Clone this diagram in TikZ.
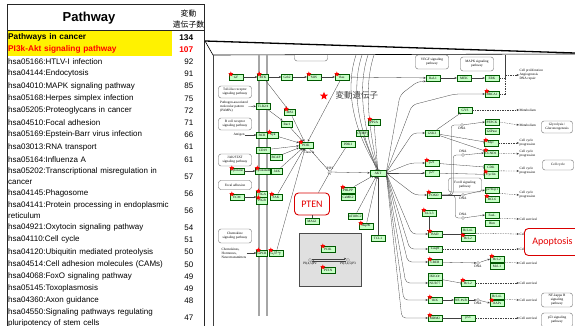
\documentclass[tikz,border=0pt]{standalone}
\usepackage{fontspec}
\setmainfont{Liberation Sans}
\newfontfamily\keggfont{Liberation Serif}
\newfontfamily\jpfont{Noto Sans CJK JP}
\newfontfamily\callfont{Carlito}
\usetikzlibrary{arrows.meta,shapes.geometric,calc}
\newcommand\kt{\keggfont\fontsize{3.4}{3.9}\selectfont}

\begin{document}
\begin{tikzpicture}[x=1pt,y=-1pt]
  %
  \tikzstyle{prow} = [anchor=center, minimum height=12.2pt, inner sep=0pt, inner xsep=1pt, text width=163pt, align=left, font=\fontsize{8}{11}\selectfont]
  \tikzstyle{prow2} = [prow, minimum height=22pt]
  \tikzstyle{phot} = [prow, fill=yellow, font=\fontsize{8.3}{11}\selectfont\bfseries]
  \tikzstyle{pcnt} = [anchor=center, minimum height=12.2pt, inner sep=0pt, text width=21pt, align=right, font=\fontsize{8}{11}\selectfont]
  \tikzstyle{photcnt} = [pcnt, font=\fontsize{8.3}{11}\selectfont\bfseries]
  \tikzstyle{gene} = [draw=green!35!black, fill=green!22, line width=0.3pt, minimum width=14pt, minimum height=6.4pt, inner sep=0.2pt, font=\kt]
  \tikzstyle{pmap} = [draw=black!60, line width=0.4pt, rounded corners=2.5pt, fill=white, minimum width=33pt, minimum height=12pt, inner sep=0.5pt, align=center, font=\kt]
  \tikzstyle{ktext} = [inner sep=0.3pt, align=left, font=\kt]
  \tikzstyle{cpd} = [circle, draw=black!80, fill=white, line width=0.3pt, minimum size=3pt, inner sep=0pt, label distance=0pt]
  \tikzstyle{hit} = [star, star points=5, star point ratio=2.3, fill=red, inner sep=0pt, minimum size=5.5pt]
  \tikzstyle{lnk} = [draw=black!75, line width=0.3pt]
  \tikzstyle{act} = [lnk, -{Stealth[length=2.4pt,width=2pt]}]
  \tikzstyle{inh} = [lnk, -{Bar[width=3.5pt]}]
  \tikzstyle{ind} = [lnk, dash pattern=on 1.5pt off 1pt, -{Stealth[length=2.4pt,width=2pt]}]
  \tikzstyle{callout} = [draw=red!85!black, line width=0.9pt, rounded corners=4pt, fill=white, text=red!90!black, font=\callfont\fontsize{10}{10}\selectfont]

  \clip (0,0) rectangle (575,326);

  % table of enriched pathways
  \node[font=\fontsize{13}{13}\selectfont\bfseries] (hdr) at (89,18) {Pathway};
  \node[font=\jpfont\fontsize{7.8}{11}\selectfont, align=center, inner sep=0pt] (hdrcnt) at (188.5,19.5) {変動\\遺伝子数};
  \matrix[row sep=0pt, column sep=0pt, inner sep=0pt, anchor=north west] (tbl) at (7,31)
  {
    \node[phot]{Pathways in cancer}; & \node[photcnt]{134}; \\
    \node[phot, text=red]{PI3k-Akt signaling pathway}; & \node[photcnt, text=red]{107}; \\
    \node[prow]{hsa05166:HTLV-I infection}; & \node[pcnt]{92}; \\
    \node[prow]{hsa04144:Endocytosis}; & \node[pcnt]{91}; \\
    \node[prow]{hsa04010:MAPK signaling pathway}; & \node[pcnt]{85}; \\
    \node[prow]{hsa05168:Herpes simplex infection}; & \node[pcnt]{75}; \\
    \node[prow]{hsa05205:Proteoglycans in cancer}; & \node[pcnt]{72}; \\
    \node[prow]{hsa04510:Focal adhesion}; & \node[pcnt]{71}; \\
    \node[prow]{hsa05169:Epstein-Barr virus infection}; & \node[pcnt]{66}; \\
    \node[prow]{hsa03013:RNA transport}; & \node[pcnt]{61}; \\
    \node[prow]{hsa05164:Influenza A}; & \node[pcnt]{61}; \\
    \node[prow2]{hsa05202:Transcriptional misregulation in\\cancer}; & \node[pcnt]{57}; \\
    \node[prow]{hsa04145:Phagosome}; & \node[pcnt]{56}; \\
    \node[prow2]{hsa04141:Protein processing in endoplasmic\\reticulum}; & \node[pcnt]{56}; \\
    \node[prow]{hsa04921:Oxytocin signaling pathway}; & \node[pcnt]{54}; \\
    \node[prow]{hsa04110:Cell cycle}; & \node[pcnt]{51}; \\
    \node[prow]{hsa04120:Ubiquitin mediated proteolysis}; & \node[pcnt]{50}; \\
    \node[prow]{hsa04514:Cell adhesion molecules (CAMs)}; & \node[pcnt]{50}; \\
    \node[prow]{hsa04068:FoxO signaling pathway}; & \node[pcnt]{49}; \\
    \node[prow]{hsa05145:Toxoplasmosis}; & \node[pcnt]{49}; \\
    \node[prow]{hsa04360:Axon guidance}; & \node[pcnt]{48}; \\
    \node[prow2]{hsa04550:Signaling pathways regulating\\pluripotency of stem cells}; & \node[pcnt]{47}; \\
  };
  \draw[black!85, line width=0.6pt] (7,326) -- (7,4) -- (204,4) -- (204,326);
  \draw[black!85, line width=0.6pt] (7,30) -- (204,30);

  % zoom wedge and map frame
  \draw[line width=1.3pt] (205,41) -- (575,53);
  \draw[line width=0.6pt] (205,41) -- (213,55) -- (575,54);
  \draw[black!75, line width=0.7pt] (213,55) -- (213,326);

  \begin{scope}
  \clip (213.5,55.5) rectangle (575,326);
  % membrane
  \draw[black!35, line width=1.1pt] (259,55) -- (259,316);
  \draw[black!35, line width=1.1pt] (267,55) -- (267,316);

  % pathway boxes
  \node[pmap, minimum height=22pt] (topp) at (311,50) {};
  \node[pmap] (tollp) at (235,92) {Toll-like receptor\\signaling pathway};
  \node[pmap] (bcrp) at (235,124) {B cell receptor\\signaling pathway};
  \node[pmap] (jakp) at (235,160) {JAK/STAT\\signaling pathway};
  \node[pmap, minimum height=9pt] (focp) at (235,185) {Focal adhesion};
  \node[pmap, minimum height=14pt] (chmp) at (235,236) {Chemokine\\signaling pathway};
  \node[pmap, minimum height=14pt] (vegfp) at (432,62) {VEGF signaling\\pathway};
  \node[pmap, minimum height=14pt] (mapkp) at (477,64) {MAPK signaling\\pathway};
  \node[pmap, minimum width=31pt] (glyp) at (557,127) {Glycolysis /\\Gluconeogenesis};
  \node[pmap, minimum width=31pt, minimum height=10pt] (ccp) at (558,165) {Cell cycle};
  \node[pmap, minimum height=14pt] (foxp) at (465,185) {FoxO signaling\\pathway};
  \node[pmap, minimum width=31pt, minimum height=14pt] (nfkp) at (557,300) {NF-kappa B\\signaling\\pathway};
  \node[pmap, minimum width=31pt, minimum height=14pt] (p53p) at (557,320) {p53 signaling\\pathway};

  % genes
  \node[gene] (gf) at (236,77) {GF};
  \node[gene, minimum width=11pt] (rtk) at (263,77) {RTK};
  \node[gene, minimum width=11pt] (grb) at (287,77) {Grb2};
  \node[gene] (sos) at (314,77) {SOS};
  \node[gene] (ras) at (342,77) {Ras};
  \node[gene] (raf) at (433,78) {Raf-1};
  \node[gene] (mek) at (464,78) {MEK};
  \node[gene] (erk) at (492,78) {ERK};
  \node[gene] (brca) at (492,94) {BRCA1};
  \node[gene] (gys) at (465,110) {GYS};
  \node[gene] (tlr) at (263,106) {TLR2/4};
  \node[gene, minimum width=11pt] (irs) at (290,112) {IRS1};
  \node[gene, minimum width=11pt] (rac) at (287,124) {Rac1};
  \node[gene, minimum width=11pt] (bcr) at (262,135) {BCR};
  \node[gene, minimum width=11pt] (syk) at (273,135) {Syk};
  \node[gene] (cd) at (263,150) {CD19};
  \node[gene, minimum width=12pt] (bcap) at (276,157) {BCAP};
  \node[gene] (pik) at (306,145) {PI3K};
  \node[gene] (ctk) at (237,171) {Cytokine};
  \node[gene, minimum width=13pt] (ctkr) at (263,171) {CytokineR};
  \node[gene, minimum width=11pt] (jak) at (277,171) {JAK};
  \node[gene] (ecm) at (237,197) {ECM};
  \node[gene, minimum width=11pt] (itga) at (262,194) {ITGA};
  \node[gene, minimum width=11pt] (itgb) at (262,200.5) {ITGB};
  \node[gene, minimum width=12pt] (fak) at (276,197) {FAK};
  \node[gene] (pdk) at (348,144) {PDK1};
  \node[gene, minimum width=12pt] (ctmp) at (362,133) {CTMP};
  \node[gene, minimum width=12pt] (pp2a) at (374,122) {PP2A};
  \node[gene, minimum width=16pt] (akt) at (378,173) {AKT};
  \node[gene] (phlpp) at (348,190) {PHLPP};
  \node[gene] (camk) at (348,197) {CaMK2};
  \node[gene] (magi) at (312,221) {MAGI};
  \node[gene] (mtor) at (355,216) {mTORC2};
  \node[gene] (hsp) at (366,226) {Hsp90};
  \node[gene] (tcl) at (378,238) {TCL1};
  \node[gene, minimum width=11pt] (gpcr) at (262,253) {GPCR};
  \node[gene] (gbg) at (276,253) {G$\beta\gamma$};
  \node[gene] (gsk) at (432,133) {GSK3};
  \node[gene] (pepck) at (492,122) {PEPCK};
  \node[gene] (gsix) at (492,131) {G6Pase};
  \node[gene] (myc) at (491,143) {Myc};
  \node[gene] (ccnd) at (491,153) {CCND1};
  \node[gene] (pone) at (432,163) {p21};
  \node[gene] (ptwo) at (432,173) {p27};
  \node[gene] (cdk) at (491,167.5) {CDK};
  \node[gene] (cyc) at (491,174.5) {Cyclin};
  \node[gene] (foxo) at (434,195) {FOXO};
  \node[gene] (kip) at (492,190) {p27Kip1};
  \node[gene] (bcls) at (492,199) {BCL6};
  \node[gene] (ywha) at (429,213) {14-3-3};
  \node[gene] (fasl) at (492,215) {FasL};
  \node[gene] (bim) at (492,223) {Bim};
  \node[gene] (bad) at (435,234) {BAD};
  \node[gene] (bclx) at (468,230) {Bcl-xL};
  \node[gene] (bcl) at (468,238) {Bcl-2};
  \node[gene] (casp) at (435,249) {Casp9};
  \node[gene] (creb) at (435,262) {CREB};
  \node[gene] (bclc) at (497,259) {Bcl-2};
  \node[gene] (mcl) at (497,266) {Mcl-1};
  \node[gene] (ikka) at (435,276.5) {IKK$\alpha$};
  \node[gene] (nur) at (435,283) {NUR77};
  \node[gene] (bcld) at (468,283) {Bcl-2};
  \node[gene] (ikk) at (435,300) {IKK};
  \node[gene] (nfkb) at (461,300) {NF-$\kappa$B};
  \node[gene] (bclxb) at (497,296) {Bcl-xL};
  \node[gene] (ciap) at (497,303) {cIAPs};
  \node[gene] (mdm) at (435,318) {MDM2};
  \node[gene] (pfif) at (468,318) {p53};

  % compounds and free text
  \node[cpd, label={[ktext]above:PIP3}] (pip) at (330,172) {};
  \node[cpd, label={[ktext]below:DNA}] (dnaa) at (462,125) {};
  \node[cpd, label={[ktext]above:DNA}] (dnab) at (463,155) {};
  \node[cpd, label={[ktext]below:DNA}] (dnac) at (463,195) {};
  \node[cpd, label={[ktext]above:DNA}] (dnad) at (463,218) {};
  \node[cpd, label={[ktext]below:DNA}] (dnae) at (478,263) {};
  \node[cpd, label={[ktext]below:DNA}] (dnaf) at (478,300) {};
  \node[ktext] (pamps) at (234,107) {Pathogen-associated\\molecular pattern\\(PAMPs)};
  \node[ktext] (antigen) at (239,135) {Antigen};
  \node[ktext] (classia) at (309,152) {Class Ia};
  \node[ktext] (chemo) at (234,253) {Chemokines,\\Hormones,\\Neurotransmitters};
  \node[ktext, anchor=west] (prolif) at (519,75) {Cell proliferation\\Angiogenesis\\DNA repair};
  \node[ktext, anchor=west] (metaa) at (519,110) {Metabolism};
  \node[ktext, anchor=west] (metab) at (519,125) {Metabolism};
  \node[ktext, anchor=west] (ccpa) at (519,143) {Cell cycle\\progression};
  \node[ktext, anchor=west] (ccpb) at (519,154) {Cell cycle\\progression};
  \node[ktext, anchor=west] (ccpc) at (519,171) {Cell cycle\\progression};
  \node[ktext, anchor=west] (ccpd) at (519,195) {Cell cycle\\progression};
  \node[ktext, anchor=west] (surva) at (519,219) {Cell survival};
  \node[ktext, anchor=west] (survb) at (519,234) {Cell survival};
  \node[ktext, anchor=west] (survc) at (519,249) {Cell survival};
  \node[ktext, anchor=west] (survd) at (519,263) {Cell survival};
  \node[ktext, anchor=west] (surve) at (519,283) {Cell survival};
  \node[ktext, anchor=west] (survf) at (519,300) {Cell survival};
  \node[ktext, anchor=west] (survg) at (519,318) {Cell survival};

  % PI3K reaction box
  \node[draw=black!70, fill=black!12, line width=0.8pt, minimum width=62pt, minimum height=53pt] (pibox) at (330,259.5) {};
  \node[gene] (pikb) at (328,249) {PI3K};
  \node[gene] (ptenb) at (328,270) {PTEN};
  \node[cpd, label={[ktext]below:PI(4,5)P2}] (pa) at (310,260) {};
  \node[cpd, label={[ktext]below:PI(3,4,5)P3}] (pb) at (348,260) {};
  \draw[act] ([yshift=1.3pt]pa.east) -- ([yshift=1.3pt]pb.west);
  \draw[act] ([yshift=-1.3pt]pb.west) -- ([yshift=-1.3pt]pa.east);

  % relations
  \draw[act] (gf) -- (rtk);
  \draw[act] (rtk) -- (grb);
  \draw[act] (grb) -- (sos);
  \draw[act] (sos) -- (ras);
  \draw[act] (ras) -- (raf);
  \draw[act] (raf) -- (mek);
  \draw[act] (mek) -- (erk);
  \draw[act] (rtk) -- (irs);
  \draw[act] (irs) -- (pik);
  \draw[act] (ras) -- (pik);
  \draw[act] (pamps) -- (tlr);
  \draw[act] (tlr) -- (rac);
  \draw[act] (rac) -- (pik);
  \draw[act] (antigen) -- (bcr);
  \draw[act] (syk) -- (pik);
  \draw[act] (cd) -- (pik);
  \draw[act] (bcap) -- (pik);
  \draw[act] (ctk) -- (ctkr);
  \draw[act] (jak) -- (pik);
  \draw[act] (ecm) -- (itga.west |- ecm);
  \draw[act] (fak) -- (pik);
  \draw[act] (chemo) -- (gpcr);
  \draw[act] (gbg) -- (pik);
  \draw[lnk] (pik) -- (pip);
  \draw[lnk] (pdk) -- (pip);
  \draw[act] (pip) -- (akt);
  \draw[inh] (ctmp) -- (akt);
  \draw[inh] (pp2a) -- (akt);
  \draw[inh] (phlpp) -- (akt);
  \draw[act] (mtor) -- (akt);
  \draw[act] (hsp) -- (akt);
  \draw[act] (tcl) -- (akt);

  % fan of AKT targets
  \foreach \t/\b in {gsk/12, pone/14, ptwo/10, foxo/12, bad/16, casp/18, creb/20, nur/22, ikk/24, mdm/26}
    \draw[act, rounded corners=4pt] (akt.east) -- ([xshift=-\b pt]\t.west) -- (\t.west);
  \draw[act, rounded corners=5pt] (akt.east) -- (400,95) -- ([xshift=-8pt]raf.south west) -- (raf.south west);
  \draw[act, rounded corners=5pt] (akt.east) -- (412,105) -- ([xshift=-30pt]brca.west) -- (brca.west);
  \foreach \i/\xa in {1/350, 2/356, 3/362, 4/368}
  {
    \coordinate (up\i) at (\xa+6,55);
    \draw[lnk] (akt.north) .. controls (\xa,125) and (\xa-4,85) .. (up\i);
  }

  \draw[inh] (gsk) -- (gys);
  \draw[inh] (gsk) -- (myc);
  \draw[inh] (gsk) -- (ccnd);
  \draw[inh] (pone) -- (cdk);
  \draw[inh] (ptwo) -- (cyc);
  \draw[lnk, rounded corners=3pt] (foxo.east) -- ++(10,0) |- (dnaa);
  \draw[lnk, rounded corners=3pt] (foxo.east) -- ++(12,0) |- (dnab);
  \draw[lnk] (foxo) -- (dnac);
  \draw[lnk, rounded corners=3pt] (foxo.east) -- ++(14,0) |- (dnad);
  \draw[act] (dnaa) -- (pepck.west);
  \draw[act] (dnab) -- (ccnd.west);
  \draw[act] (dnac) -- (kip.west);
  \draw[act] (dnad) -- (fasl.west);
  \draw[inh] (ywha) -- (ywha |- bad.north);
  \draw[inh] (bad) -- (bcl.west |- bad);
  \draw[act] (creb) -- (dnae);
  \draw[act] (dnae) -- (bclc.west);
  \draw[inh] (nur.north east) -- (bcld.west);
  \draw[act] (ikk) -- (nfkb);
  \draw[act] (nfkb) -- (dnaf);
  \draw[act] (dnaf) -- (ciap.west);
  \draw[inh] (mdm) -- (pfif);

  % outcomes
  \coordinate (brk) at (505,50);
  \draw[lnk, dash pattern=on 1.5pt off 1pt] (erk.east) -| (brk);
  \draw[lnk, dash pattern=on 1.5pt off 1pt] (brca.east) -| (brk);
  \draw[ind] (brk |- prolif) -- (prolif.west);
  \draw[ind] (gys) -- (metaa);
  \draw[ind] (pepck.east) -- (metab.west);
  \draw[ind] (myc) -- (ccpa);
  \draw[ind] (ccnd) -- (ccpb);
  \draw[ind] (cdk.south east) -- (ccpc.west);
  \draw[ind] (kip.south east) -- (ccpd.west);
  \draw[ind] (fasl.south east) -- (surva.west);
  \draw[ind] (bclx.south east) -- (survb.west);
  \draw[ind] (casp) -- (survc);
  \draw[ind] (bclc.south east) -- (survd.west);
  \draw[ind] (bcld) -- (surve);
  \draw[ind] (bclxb.south east) -- (survf.west);
  \draw[ind] (pfif) -- (survg);

  % changed genes
  \foreach \g in {gf, rtk, sos, ras, brca, irs, syk, pik, ctk, ctkr, ecm, itga, itgb, fak, pp2a, phlpp, hsp, gpcr, gbg, pikb, ptenb, myc, ccnd, pone, cyc, foxo, bcls, ywha, bad, bcl, creb, bclc, bcld, ikk, ciap, mdm}
    \node[hit] at ([xshift=2pt,yshift=-0.5pt]\g.north west) {};
  \node[hit, minimum size=8.5pt] (legstar) at (324,96) {};
  \node[font=\jpfont\fontsize{8.5}{9}\selectfont, text=black!75, anchor=west] (legtxt) at (332,95) {変動遺伝子};

  % callouts
  \node[callout, minimum width=35pt, minimum height=22pt] (ptenbox) at (312,204) {PTEN};
  \draw[inh] (ptenbox) -- (pip);
  \draw[lnk] (magi) -- (ptenbox);
  \node[callout, minimum width=56pt, minimum height=27pt, anchor=west] (apobox) at (524,242) {Apoptosis};
  \end{scope}
\end{tikzpicture}
\end{document}
